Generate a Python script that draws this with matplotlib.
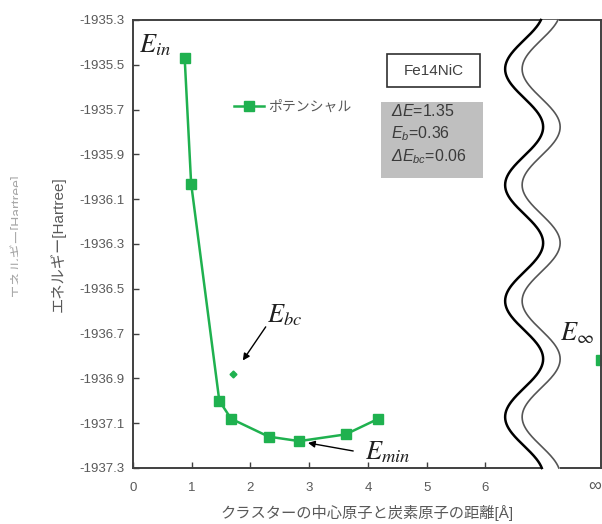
import numpy as np
import matplotlib
matplotlib.use("Agg")
import matplotlib.pyplot as plt
from matplotlib.patches import Rectangle

plt.rcParams['font.family'] = ['Liberation Sans', 'Noto Sans CJK JP', 'DejaVu Sans']
plt.rcParams['mathtext.fontset'] = 'custom'
plt.rcParams['mathtext.rm'] = 'Liberation Sans'
plt.rcParams['mathtext.it'] = 'Liberation Sans:italic'
plt.rcParams['mathtext.sf'] = 'Liberation Sans:italic'   # italic capital Greek

# ---------- data ----------
dist = [0.88, 0.99, 1.47, 1.67, 2.31, 2.83, 3.62, 4.18]          # [Å]
energy = [-1935.47, -1936.03, -1937.00, -1937.08, -1937.16,
          -1937.18, -1937.15, -1937.08]                          # [Hartree]
ebc_x, ebc_y = [1.71], [-1936.88]
einf_y = [-1936.82]

xticks = [0, 1, 2, 3, 4, 5, 6]
yticks = [-1935.3, -1935.5, -1935.7, -1935.9, -1936.1, -1936.3,
          -1936.5, -1936.7, -1936.9, -1937.1, -1937.3]
XMAX = 7.97
INF_TICK = 7.87

GREEN = '#1fb14f'
GRAY = '#595959'

fig = plt.figure(figsize=(6.02, 5.24), dpi=100)
ax = fig.add_axes([133/602, 1-468/524, 468/602, 448/524])

ax.plot(dist, energy, color=GREEN, lw=1.8, marker='s', ms=6.5, label='ポテンシャル')
ax.plot(ebc_x, ebc_y, ls='none', marker='D', ms=3.5, color=GREEN)
ax.plot([XMAX], einf_y, ls='none', marker='s', ms=6.5, color=GREEN, clip_on=True)

ax.set_xlim(0, XMAX)
ax.set_ylim(-1937.3, -1935.3)
ax.set_xticks(xticks)
ax.set_yticks(yticks)
ax.set_yticklabels([f"{t:.1f}" for t in yticks])
ax.tick_params(direction='in', length=4, width=1, color='#404040',
               labelcolor=GRAY, labelsize=9.5)
ax.tick_params(axis='x', pad=10)
ax.tick_params(axis='y', pad=6)
for s in ax.spines.values():
    s.set_color('#404040'); s.set_linewidth(1.4)
ax.text(INF_TICK, -0.04, '∞', transform=ax.get_xaxis_transform(), ha='center',
        va='center', fontsize=13, color=GRAY, clip_on=False)

ax.set_xlabel('クラスターの中心原子と炭素原子の距離[Å]', fontsize=11, color=GRAY, labelpad=8)
ax.set_ylabel('エネルギー[Hartree]', fontsize=11, color=GRAY, labelpad=10)

# faded, half-cut duplicate label at far left
fig.text(16/602, 1-235/524, 'エネルギー[Hartree]', rotation=90, fontsize=10,
         color='#a8a8a8', ha='center', va='center', zorder=3)
fig.patches.append(Rectangle((18/602, 0.3), 10/602, 0.5, transform=fig.transFigure,
                             fc='white', ec='none', zorder=4, figure=fig))

ax.legend(loc='center left', bbox_to_anchor=(0.2, 0.806), frameon=False,
          borderpad=0, handlelength=2.2, handletextpad=0.3, fontsize=10,
          labelcolor=GRAY)

# info boxes
ax.add_patch(Rectangle((0.543, 0.850), 0.199, 0.0737, transform=ax.transAxes,
                       fc='white', ec='#303030', lw=1.2))
ax.text(0.642, 0.887, 'Fe14NiC', transform=ax.transAxes, ha='center', va='center',
        fontsize=11, color='#404040')
ax.add_patch(Rectangle((0.530, 0.647), 0.218, 0.170, transform=ax.transAxes,
                       fc='#bfbfbf', ec='none'))
for yy, s in zip([0.797, 0.746, 0.694],
                 [r'$\mathsf{Δ}E$=1.35', r'$E_b$=0.36', r'$\mathsf{Δ}E_{bc}$=0.06']):
    ax.text(0.551, yy, s, transform=ax.transAxes, ha='left', va='center',
            fontsize=11.5, color='#3a3a3a', math_fontfamily='custom')

# energy labels
lab = dict(fontsize=19, math_fontfamily='stix', color='#202020', ha='left', va='baseline')
arw = dict(arrowstyle='-|>', color='black', lw=1, mutation_scale=10, shrinkA=0, shrinkB=0)
ax.text(0.11, -1935.445, r'$E_{in}$', **lab)
ax.text(7.27, -1936.732, r'$E_{\infty}$', **lab)
ax.text(2.28, -1936.651, r'$E_{bc}$', **lab)
ax.annotate('', xy=(1.87, -1936.82), xytext=(2.26, -1936.67), arrowprops=arw)
ax.text(3.95, -1937.26, r'$E_{min}$', **lab)
ax.annotate('', xy=(2.98, -1937.188), xytext=(3.75, -1937.224), arrowprops=arw)

# axis break (wavy double line)
yy = np.linspace(0, 1, 400)
ypx = 468 - yy * 448
xl = (524 + 19 * np.cos(2 * np.pi * (ypx - 127) / 116) - 133) / 58.7
xr = xl + 17 / 58.7
tr = ax.get_xaxis_transform()
ax.fill_betweenx(yy, xl, xr, color='white', transform=tr, clip_on=False, zorder=5)
ax.plot(xl, yy, color='black', lw=1.8, transform=tr, clip_on=False, zorder=6)
ax.plot(xr, yy, color='#555555', lw=1.2, transform=tr, clip_on=False, zorder=6)

fig.savefig('out.png', dpi=100)
